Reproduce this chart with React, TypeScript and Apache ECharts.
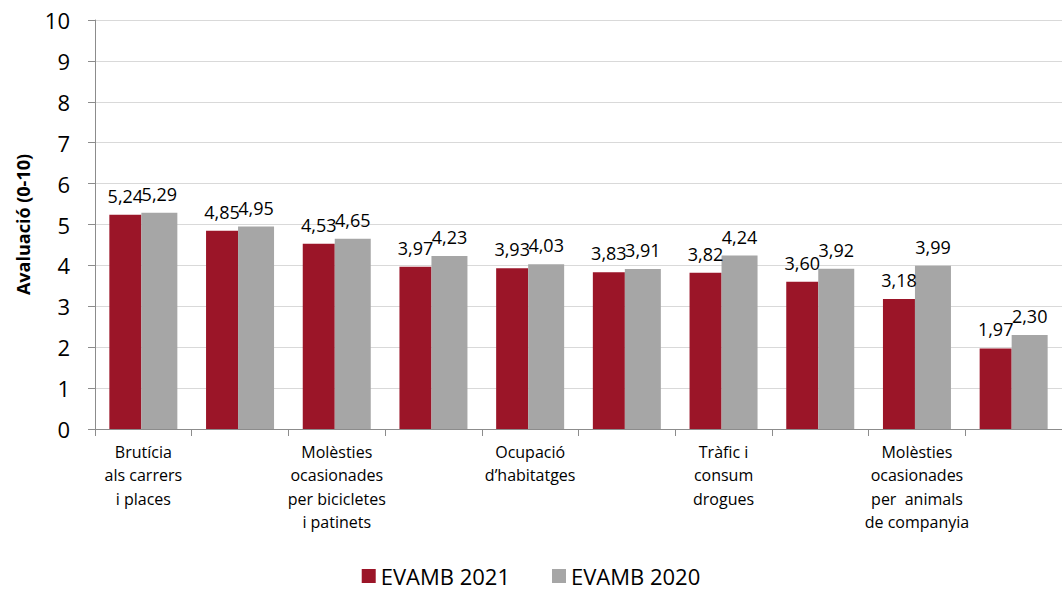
import React, { useEffect, useRef } from "react";
import * as echarts from "echarts";

const categories = [
  "Brutícia\nals carrers\ni places",
  "",
  "Molèsties\nocasionades\nper bicicletes\ni patinets",
  "",
  "Ocupació\nd’habitatges",
  "",
  "Tràfic i\nconsum\ndrogues",
  "",
  "Molèsties\nocasionades\nper  animals\nde companyia",
  "",
];
const evamb2021 = [5.24, 4.85, 4.53, 3.97, 3.93, 3.83, 3.82, 3.6, 3.18, 1.97];
const evamb2020 = [5.29, 4.95, 4.65, 4.23, 4.03, 3.91, 4.24, 3.92, 3.99, 2.3];
const seriesNames = ["EVAMB 2021", "EVAMB 2020"];
const yTicks = { min: 0, max: 10, interval: 1 };

const FONT = "'Open Sans', sans-serif";

export default function App() {
  const ref = useRef<HTMLDivElement>(null);
  useEffect(() => {
    if (!ref.current) return;
    const chart = echarts.init(ref.current, undefined, { renderer: "svg" });
    const fmt = (p: any) => Number(p.value).toFixed(2).replace(".", ",");
    chart.setOption({
      animation: false,
      textStyle: { fontFamily: FONT },
      grid: { left: 95, right: 0, top: 20, bottom: 163, containLabel: false },
      legend: {
        bottom: 0,
        left: "center",
        itemWidth: 14,
        itemHeight: 14,
        itemGap: 42,
        icon: "rect",
        textStyle: { fontSize: 22, color: "#000", fontFamily: FONT },
        data: seriesNames,
      },
      xAxis: {
        type: "category",
        data: categories,
        axisLine: { lineStyle: { color: "#8c8c8c", width: 1 } },
        axisTick: { show: true, length: 7, lineStyle: { color: "#8c8c8c" } },
        axisLabel: {
          interval: 0,
          color: "#000",
          fontSize: 16,
          lineHeight: 23.5,
          margin: 11,
          fontFamily: FONT,
        },
      },
      yAxis: {
        type: "value",
        min: yTicks.min,
        max: yTicks.max,
        interval: yTicks.interval,
        name: "Avaluació (0-10)",
        nameLocation: "middle",
        nameGap: 63,
        nameTextStyle: { fontSize: 18, fontWeight: "bold", color: "#000", fontFamily: FONT },
        axisLine: { show: true, lineStyle: { color: "#8c8c8c" } },
        axisTick: { show: true, length: 7, lineStyle: { color: "#8c8c8c" } },
        axisLabel: { color: "#000", fontSize: 22, margin: 25, fontFamily: FONT },
        splitLine: { lineStyle: { color: "#d9d9d9" } },
      },
      series: [
        {
          name: seriesNames[0],
          type: "bar",
          data: evamb2021,
          barWidth: 32,
          barGap: "0%",
          itemStyle: { color: "#9b1528" },
          label: { show: true, position: "top", distance: 10, formatter: fmt, fontSize: 18, color: "#000", fontFamily: FONT },
        },
        {
          name: seriesNames[1],
          type: "bar",
          data: evamb2020,
          barWidth: 36,
          barGap: "0%",
          itemStyle: { color: "#a6a6a6" },
          label: { show: true, position: "top", distance: 10, formatter: fmt, fontSize: 18, color: "#000", fontFamily: FONT },
        },
      ],
    });
    return () => chart.dispose();
  }, []);
  return <div ref={ref} style={{ width: 1062, height: 592, position: "absolute", left: 0, top: 0 }} />;
}
